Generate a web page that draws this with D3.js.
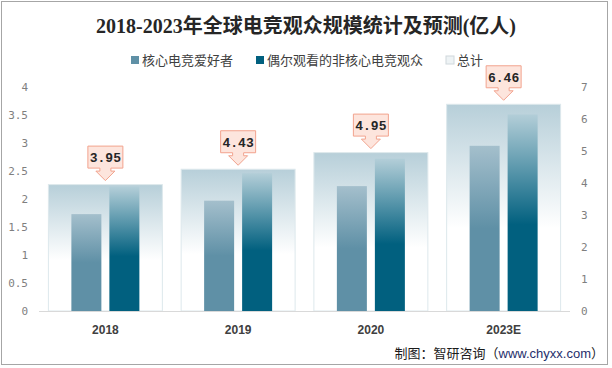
<!DOCTYPE html>
<html><head><meta charset="utf-8">
<script src="https://cdn.jsdelivr.net/npm/d3@7"></script>
<style>body{margin:0;background:#fff}svg{display:block}</style>
</head><body>
<svg id="c" width="612" height="368"></svg>
<script>
const categories = ["2018","2019","2020","2023E"];
const seriesNames = ["核心电竞爱好者","偶尔观看的非核心电竞观众","总计"];
const coreFans = [1.73, 1.97, 2.23, 2.95];
const casualViewers = [2.22, 2.46, 2.72, 3.51];
const totals = [3.95, 4.43, 4.95, 6.46];
const leftTicks = [0,0.5,1,1.5,2,2.5,3,3.5,4];
const rightTicks = [0,1,2,3,4,5,6,7];
const title = "2018-2023年全球电竞观众规模统计及预测(亿人)";
const source1 = "制图：智研咨询（";
const source2 = "www.chyxx.com";
const source3 = "）";

const svg = d3.select("#c");
const cjk = "'Liberation Sans','Noto Sans CJK SC',sans-serif";
const serif = "'Liberation Serif','Noto Sans CJK SC',serif";

// frame
svg.append("rect").attr("x",1.5).attr("y",1.5).attr("width",606).attr("height",363)
  .attr("fill","#fff").attr("stroke","#a6a6a6");

const defs = svg.append("defs");
function grad(id, stops){
  const g = defs.append("linearGradient").attr("id",id).attr("x1",0).attr("y1",0).attr("x2",0).attr("y2",1);
  stops.forEach(s=>g.append("stop").attr("offset",s[0]).attr("stop-color",s[1]));
}
grad("gTot",[[0,"#b7cfd9"],[0.6,"#ffffff"],[1,"#ffffff"]]);
grad("gCore",[[0,"#a4bfcc"],[0.5,"#5f90a6"],[1,"#5f90a6"]]);
grad("gCas",[[0,"#b3ced8"],[0.56,"#01607f"],[1,"#01607f"]]);

const x = d3.scaleBand().domain(categories).range([39,570]).paddingInner(0.134).paddingOuter(0.067);
const xs = d3.scaleBand().domain(["core","cas"]).range([0,x.bandwidth()]).paddingInner(0.2105).paddingOuter(0.618);
const yL = d3.scaleLinear().domain([0,4]).range([311,87]);
const yR = d3.scaleLinear().domain([0,7]).range([311,87]);

// total boxes
svg.append("g").selectAll("rect").data(categories).join("rect")
  .attr("x",d=>x(d)+0.5).attr("width",x.bandwidth()-1)
  .attr("y",(d,i)=>yR(totals[i])).attr("height",(d,i)=>yR(0)-yR(totals[i]))
  .attr("fill","url(#gTot)").attr("stroke","#dde8ec").attr("stroke-width",1);

// bars
svg.append("g").selectAll("rect").data(categories).join("rect")
  .attr("x",d=>x(d)+xs("core")).attr("width",xs.bandwidth())
  .attr("y",(d,i)=>yL(coreFans[i])).attr("height",(d,i)=>yL(0)-yL(coreFans[i]))
  .attr("fill","url(#gCore)");
svg.append("g").selectAll("rect").data(categories).join("rect")
  .attr("x",d=>x(d)+xs("cas")).attr("width",xs.bandwidth())
  .attr("y",(d,i)=>yL(casualViewers[i])).attr("height",(d,i)=>yL(0)-yL(casualViewers[i]))
  .attr("fill","url(#gCas)");

// baseline
svg.append("line").attr("x1",39).attr("x2",570).attr("y1",311.5).attr("y2",311.5).attr("stroke","#d9d9d9");

// axes
const fmt = d=>String(d);
const aL = svg.append("g").attr("transform","translate(39,0)")
  .call(d3.axisLeft(yL).tickValues(leftTicks).tickSize(0).tickPadding(11).tickFormat(fmt));
const aR = svg.append("g").attr("transform","translate(570,0)")
  .call(d3.axisRight(yR).tickValues(rightTicks).tickSize(0).tickPadding(11).tickFormat(fmt));
[aL,aR].forEach(a=>{
  a.select(".domain").remove();
  a.selectAll("text").attr("font-family","'DejaVu Sans Mono','Liberation Mono',monospace")
    .attr("font-size",11).attr("fill","#7f7f7f");
});
const aX = svg.append("g").attr("transform","translate(0,311)")
  .call(d3.axisBottom(x).tickSize(0).tickPadding(14));
aX.select(".domain").remove();
aX.selectAll("text").attr("font-family","'Liberation Sans',sans-serif").attr("font-weight","bold")
  .attr("font-size",12).attr("fill","#404040");

// callouts
const cg = svg.append("g").selectAll("g").data(categories).join("g")
  .attr("transform",(d,i)=>`translate(${x(d)+x.bandwidth()/2},${yR(totals[i])-4})`);
cg.append("path")
  .attr("d","M-17.5,-34.5 H17.5 V-12.5 H5.5 V-9.5 H9.5 L0,0 L-9.5,-9.5 H-5.5 V-12.5 H-17.5 Z")
  .attr("fill","#fde5dd").attr("stroke","#f2a38e").attr("stroke-width",1);
cg.append("text").attr("y",-18.5).attr("text-anchor","middle")
  .attr("font-family","'Liberation Mono',monospace").attr("font-weight","bold")
  .attr("font-size",13).attr("fill","#262626")
  .text((d,i)=>totals[i].toFixed(2));

// title
svg.append("text").attr("x",306).attr("y",33).attr("text-anchor","middle")
  .attr("font-family",serif).attr("font-weight","bold").attr("font-size",20).attr("fill","#262626")
  .text(title);

// legend
const legItems = [
  {x:131, fill:"#5f90a6", stroke:"none"},
  {x:256, fill:"#01607f", stroke:"none"},
  {x:446, fill:"#eef3f5", stroke:"#d0d8dc"}
];
const lg = svg.append("g").selectAll("g").data(seriesNames).join("g")
  .attr("transform",(d,i)=>`translate(${legItems[i].x},60)`);
lg.append("rect").attr("x",0).attr("y",-4).attr("width",8).attr("height",8)
  .attr("fill",(d,i)=>legItems[i].fill).attr("stroke",(d,i)=>legItems[i].stroke);
lg.append("text").attr("x",11).attr("y",5).attr("font-family",cjk).attr("font-size",13)
  .attr("fill","#404040").text(d=>d);

// source
const st = svg.append("text").attr("x",604).attr("y",358).attr("text-anchor","end")
  .attr("font-family",cjk).attr("font-size",13).attr("fill","#1a1a1a");
st.append("tspan").text(source1);
st.append("tspan").attr("fill","#1f2f6b").text(source2);
st.append("tspan").text(source3);
</script>
</body></html>
